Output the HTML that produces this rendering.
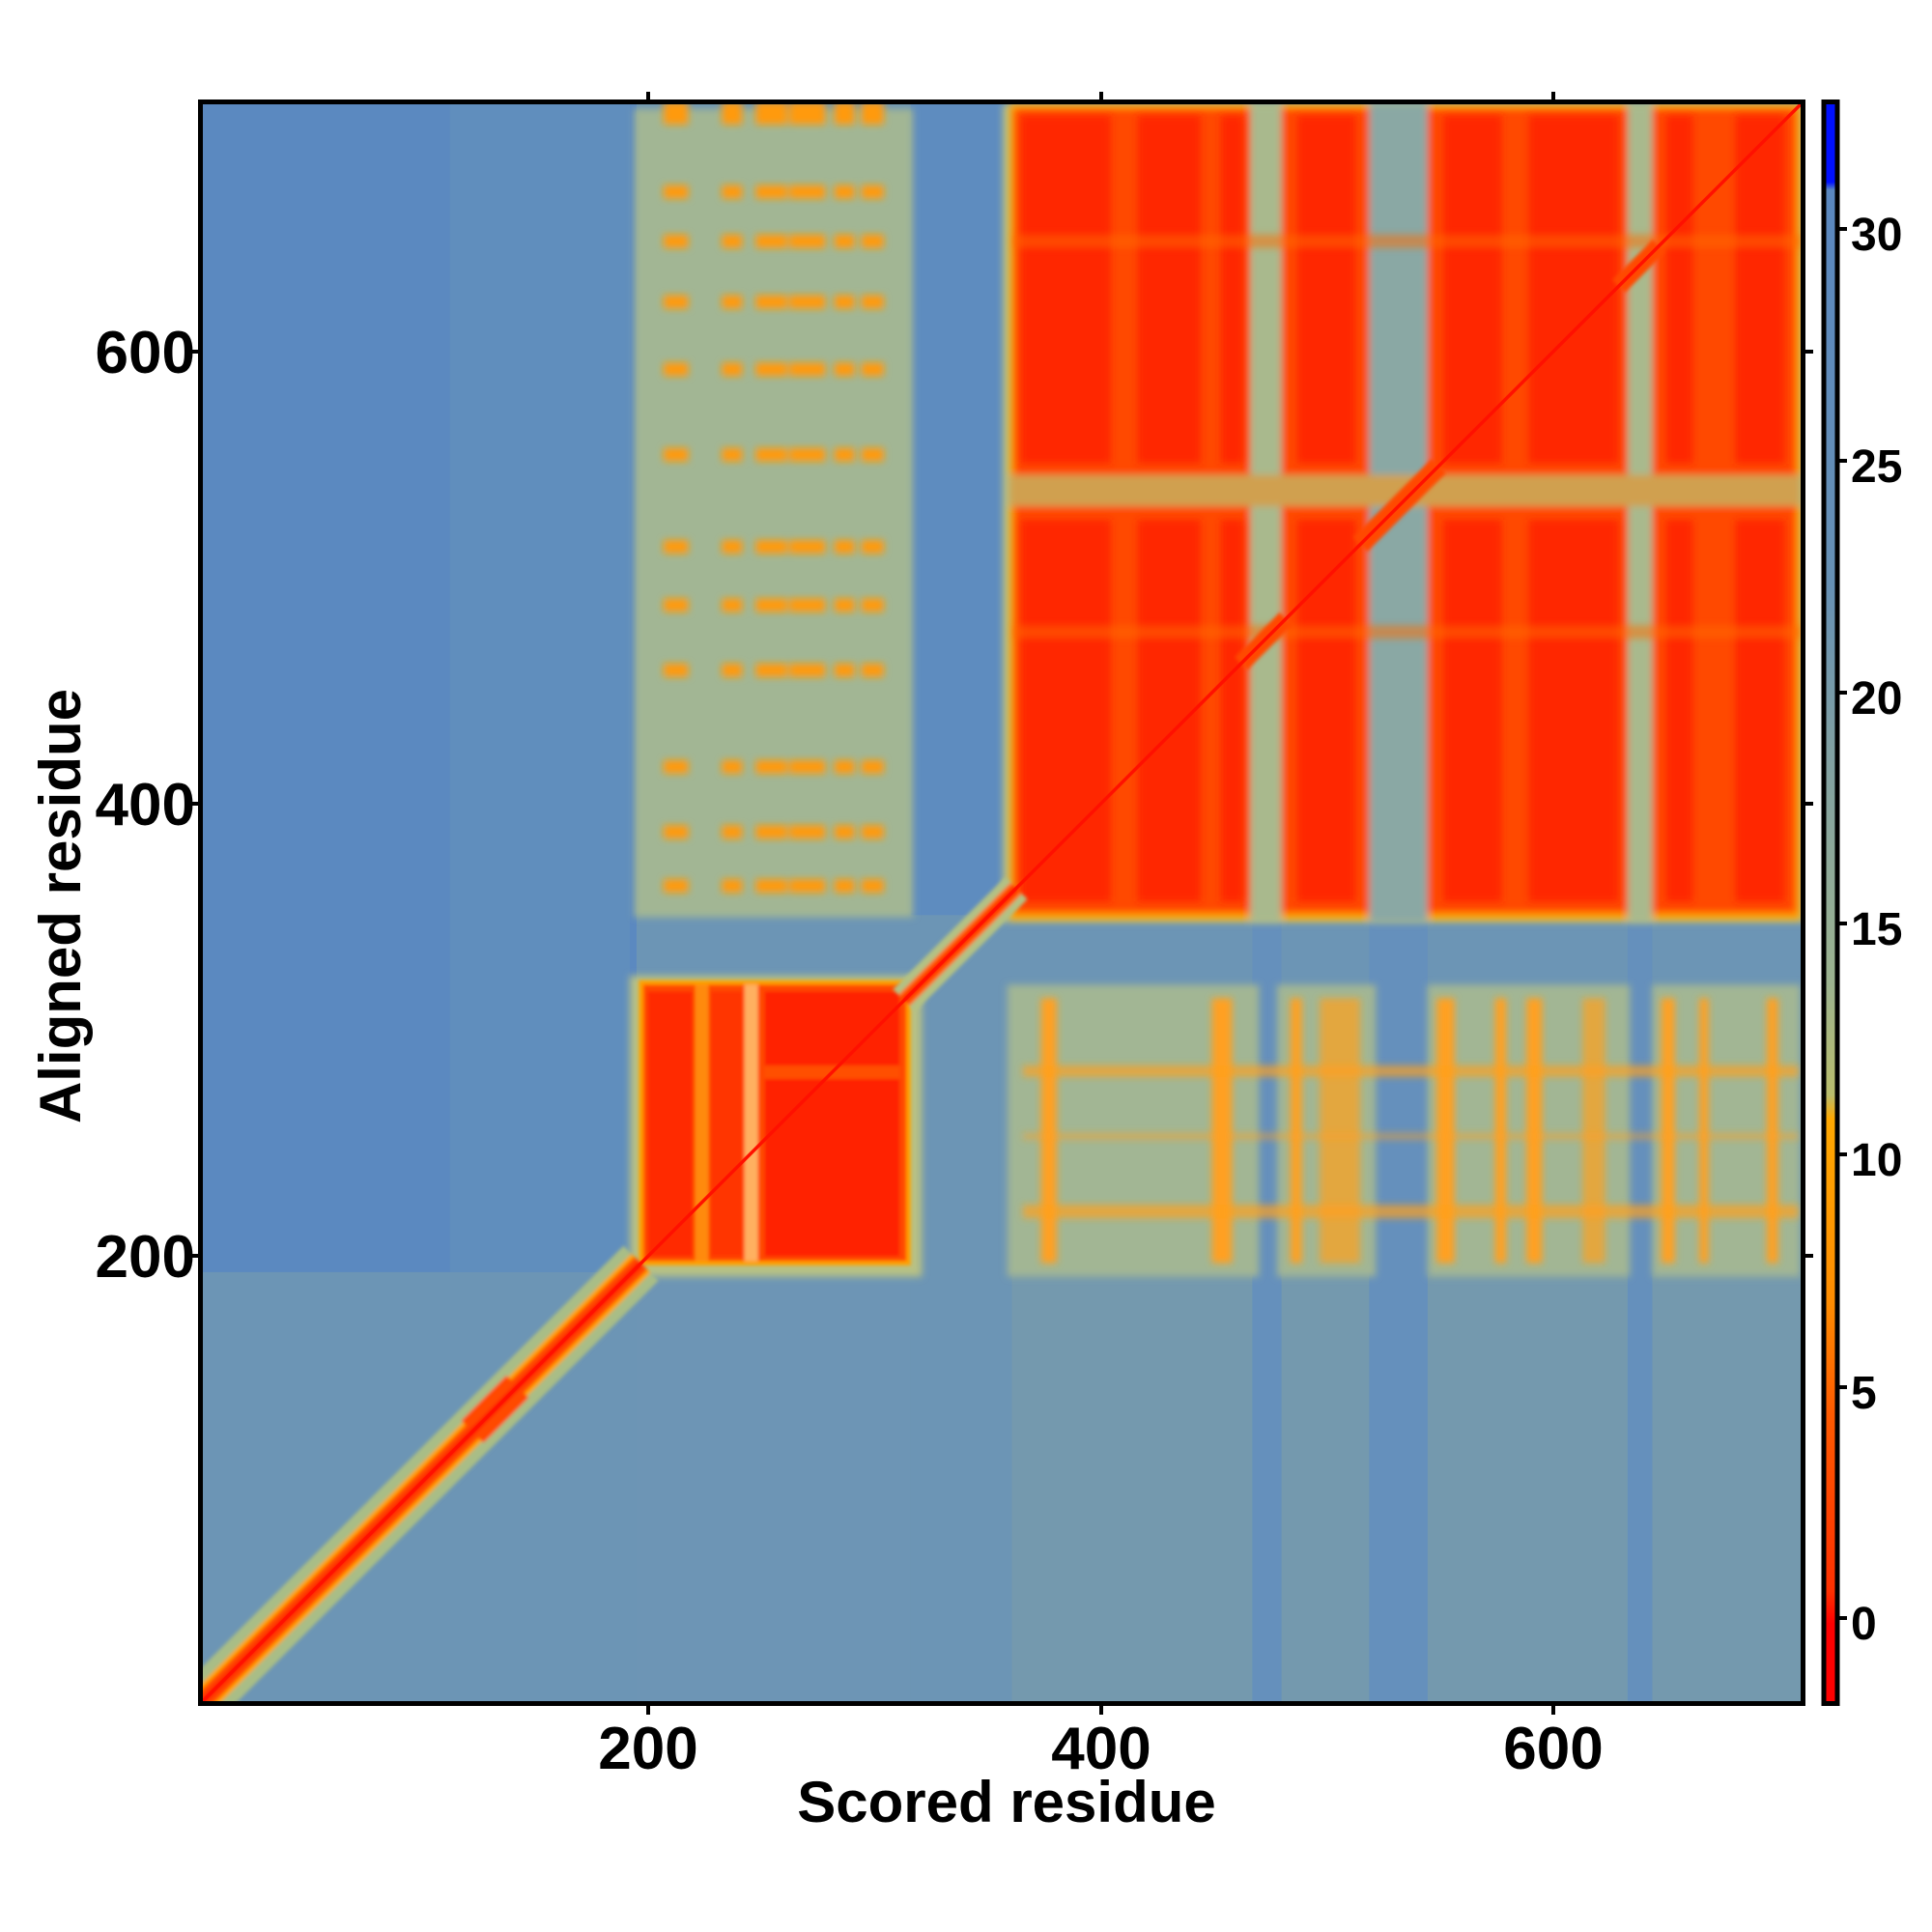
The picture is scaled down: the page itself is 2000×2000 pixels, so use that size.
<!DOCTYPE html>
<html><head><meta charset="utf-8"><style>
body{margin:0;background:#fff;width:2000px;height:2000px;overflow:hidden;position:relative;font-family:"Liberation Sans",sans-serif;font-weight:bold;color:#000}
.t{position:absolute;font-size:62px;line-height:1}
.y{position:absolute;font-size:62px;line-height:1;width:200px;text-align:right;left:2px}
.x{position:absolute;font-size:62px;line-height:1;width:200px;text-align:center;top:1780px}
.c{position:absolute;font-size:48px;line-height:1}
</style></head><body>
<svg width="2000" height="2000" style="position:absolute;left:0;top:0">
<defs>
<filter id="b1" x="-5%" y="-5%" width="110%" height="110%"><feGaussianBlur stdDeviation="1.6"/></filter>
<filter id="b2" x="-5%" y="-5%" width="110%" height="110%"><feGaussianBlur stdDeviation="0.8"/></filter>
<linearGradient id="cb" x1="0" y1="0" x2="0" y2="1">
<stop offset="0" stop-color="#0010ff"/><stop offset="0.05" stop-color="#0010ff"/>
<stop offset="0.055" stop-color="#5a87bf"/><stop offset="0.3" stop-color="#6690b4"/>
<stop offset="0.4" stop-color="#7f9fa3"/><stop offset="0.55" stop-color="#9cb38f"/>
<stop offset="0.62" stop-color="#b9bd6c"/><stop offset="0.635" stop-color="#ffa800"/>
<stop offset="0.75" stop-color="#ff8c00"/><stop offset="0.82" stop-color="#ff5a00"/>
<stop offset="0.93" stop-color="#ff3000"/><stop offset="0.95" stop-color="#ff0000"/><stop offset="1" stop-color="#ff0000"/>
</linearGradient>
</defs>
<svg x="210" y="108" width="1654" height="1653" viewBox="0 0 711 711" preserveAspectRatio="none">
<rect x="0" y="0" width="711" height="711" fill="#6c95b5"/>
<rect x="0" y="0" width="193" height="520" fill="#5b89c0"/>
<rect x="110" y="0" width="80" height="520" fill="#6390bc" opacity="0.7"/>
<rect x="315" y="0" width="45" height="361" fill="#5e8cbf"/>
<rect x="360" y="521" width="351" height="190" fill="#7499ae"/>
<rect x="193" y="521" width="122" height="190" fill="#6d95b5"/>
<g fill="#6590bc">
<rect x="467" y="361" width="13" height="350"/><rect x="519" y="300" width="26" height="411"/><rect x="634" y="361" width="11" height="350"/>
</g>
<g filter="url(#b1)">
<rect x="192" y="2" width="124" height="360" fill="#a2b694"/>
<rect x="358" y="392" width="112" height="130" fill="#a2b694"/>
<rect x="478" y="392" width="44" height="130" fill="#a2b694"/>
<rect x="545" y="392" width="90" height="130" fill="#a2b694"/>
<rect x="645" y="392" width="66" height="130" fill="#a2b694"/>
<rect x="190" y="388" width="130" height="134" fill="#b8c184"/>
<rect x="356" y="0" width="358" height="364" fill="#b8c184"/>
</g>
<g fill="#ff9a10" filter="url(#b1)">
<g id="dr">
<rect x="205" y="-1" width="11" height="6"/><rect x="231" y="-1" width="9" height="6"/><rect x="246" y="-1" width="14" height="6"/><rect x="261" y="-1" width="16" height="6"/><rect x="281" y="-1" width="9" height="6"/><rect x="293" y="-1" width="10" height="6"/>
</g>
<use href="#dr" y="4"/><use href="#dr" y="37"/><use href="#dr" y="59"/><use href="#dr" y="86"/><use href="#dr" y="116"/><use href="#dr" y="154"/><use href="#dr" y="195"/><use href="#dr" y="221"/><use href="#dr" y="250"/><use href="#dr" y="293"/><use href="#dr" y="322"/><use href="#dr" y="346"/>
</g>
<g fill="#ffa020" filter="url(#b1)">
<rect x="373" y="398" width="7" height="118"/><rect x="449" y="398" width="9" height="118"/><rect x="484" y="398" width="5" height="118"/><rect x="497" y="398" width="18" height="118" opacity="0.7"/>
<rect x="549" y="398" width="8" height="118"/><rect x="575" y="398" width="5" height="118"/><rect x="589" y="398" width="7" height="118"/><rect x="614" y="398" width="10" height="118" opacity="0.7"/>
<rect x="649" y="398" width="6" height="118"/><rect x="666" y="398" width="4" height="118"/><rect x="696" y="398" width="5" height="118"/>
<rect x="365" y="428" width="345" height="5" opacity="0.7"/><rect x="365" y="490" width="345" height="6" opacity="0.7"/><rect x="365" y="458" width="345" height="3" opacity="0.5"/>
</g>
<g filter="url(#b2)">
<rect x="194" y="390" width="121" height="127" fill="#ffa000"/>
<rect x="196" y="392" width="117" height="123" fill="#ff4a00"/>
<rect x="198" y="395" width="20" height="118" fill="#ff2a00"/>
<rect x="226" y="395" width="14" height="118" fill="#ff3400"/>
<rect x="250" y="395" width="60" height="118" fill="#ff2400"/>
<rect x="219" y="392" width="6" height="123" fill="#ff8a10"/>
<rect x="241" y="392" width="6" height="123" fill="#ffb060"/>
<rect x="250" y="428" width="60" height="6" fill="#ff5000"/>
</g>
<g filter="url(#b1)">
<rect x="359" y="0" width="352" height="363" fill="#ffa000"/>
<rect x="361" y="2" width="348" height="358" fill="#ff4800"/>
<rect x="466" y="0" width="14" height="364" fill="#a9b98d"/>
<rect x="519" y="0" width="26" height="364" fill="#8aa8a4"/>
<rect x="634" y="0" width="11" height="364" fill="#a9b98d"/>
<rect x="359" y="165" width="352" height="14" fill="#d0a050"/>
</g>
<g fill="#ff2000" opacity="0.85" filter="url(#b1)">
<rect x="364" y="5" width="40" height="155"/><rect x="416" y="5" width="28" height="155"/><rect x="453" y="5" width="10" height="155"/><rect x="487" y="5" width="26" height="155"/>
<rect x="552" y="5" width="26" height="155"/><rect x="590" y="5" width="40" height="155"/><rect x="651" y="5" width="12" height="155"/><rect x="682" y="5" width="22" height="155"/>
<rect x="364" y="185" width="40" height="170"/><rect x="416" y="185" width="28" height="170"/><rect x="453" y="185" width="10" height="170"/><rect x="487" y="185" width="26" height="170"/>
<rect x="552" y="185" width="26" height="170"/><rect x="590" y="185" width="40" height="170"/><rect x="651" y="185" width="12" height="170"/><rect x="682" y="185" width="22" height="170"/>
</g>
<g fill="#ff6a00" opacity="0.5" filter="url(#b1)">
<rect x="361" y="58" width="350" height="6"/><rect x="361" y="232" width="350" height="6"/>
</g>
<g filter="url(#b2)">
<line x1="0" y1="711" x2="195" y2="516" stroke="#a9bd86" stroke-width="22"/>
<line x1="0" y1="711" x2="195" y2="516" stroke="#ffa000" stroke-width="12"/>
<line x1="0" y1="711" x2="195" y2="516" stroke="#ff4a00" stroke-width="8"/>
<line x1="120" y1="591" x2="140" y2="571" stroke="#ff4a00" stroke-width="14"/>
<line x1="0" y1="711" x2="195" y2="516" stroke="#ff1a00" stroke-width="3"/>
<line x1="312" y1="399" x2="362" y2="349" stroke="#b3c184" stroke-width="14"/>
<line x1="312" y1="399" x2="362" y2="349" stroke="#ff6000" stroke-width="7"/>
<line x1="312" y1="399" x2="362" y2="349" stroke="#ff1a00" stroke-width="3"/>
<line x1="462" y1="249" x2="482" y2="229" stroke="#ff4a00" stroke-width="8"/>
<line x1="515" y1="196" x2="550" y2="161" stroke="#ff4a00" stroke-width="9"/>
<line x1="630" y1="81" x2="648" y2="63" stroke="#ff4a00" stroke-width="8"/>
</g>
<line x1="0" y1="711" x2="711" y2="0" stroke="#ff1000" stroke-width="1.5"/>
</svg>
<rect x="207.5" y="105.5" width="1659" height="1658" fill="none" stroke="#000" stroke-width="5"/>
<rect x="1888" y="105.5" width="14" height="1658" fill="url(#cb)" stroke="#000" stroke-width="5"/>
<g stroke="#000" stroke-width="4">
<line x1="196" y1="364" x2="205" y2="364"/><line x1="196" y1="832" x2="205" y2="832"/><line x1="196" y1="1300" x2="205" y2="1300"/>
<line x1="1869" y1="364" x2="1877" y2="364"/><line x1="1869" y1="832" x2="1877" y2="832"/><line x1="1869" y1="1300" x2="1877" y2="1300"/>
<line x1="671" y1="1766" x2="671" y2="1775"/><line x1="1140" y1="1766" x2="1140" y2="1775"/><line x1="1608" y1="1766" x2="1608" y2="1775"/>
<line x1="671" y1="95" x2="671" y2="103"/><line x1="1140" y1="95" x2="1140" y2="103"/><line x1="1608" y1="95" x2="1608" y2="103"/>
<line x1="1904" y1="237" x2="1912" y2="237"/><line x1="1904" y1="477" x2="1912" y2="477"/><line x1="1904" y1="717" x2="1912" y2="717"/><line x1="1904" y1="956" x2="1912" y2="956"/><line x1="1904" y1="1195" x2="1912" y2="1195"/><line x1="1904" y1="1436" x2="1912" y2="1436"/><line x1="1904" y1="1675" x2="1912" y2="1675"/>
</g>
</svg>
<div class="y" style="top:335px">600</div>
<div class="y" style="top:803px">400</div>
<div class="y" style="top:1271px">200</div>
<div class="x" style="left:571px">200</div>
<div class="x" style="left:1040px">400</div>
<div class="x" style="left:1508px">600</div>
<div class="t" style="left:1042px;top:1836px;font-size:60px;transform:translateX(-50%);white-space:nowrap">Scored residue</div>
<div class="t" style="left:63px;top:938px;font-size:60px;transform:translate(-50%,-50%) rotate(-90deg);white-space:nowrap">Aligned residue</div>
<div class="c" style="left:1916px;top:220px">30</div>
<div class="c" style="left:1916px;top:460px">25</div>
<div class="c" style="left:1916px;top:700px">20</div>
<div class="c" style="left:1916px;top:939px">15</div>
<div class="c" style="left:1916px;top:1178px">10</div>
<div class="c" style="left:1916px;top:1419px">5</div>
<div class="c" style="left:1916px;top:1658px">0</div>
</body></html>
